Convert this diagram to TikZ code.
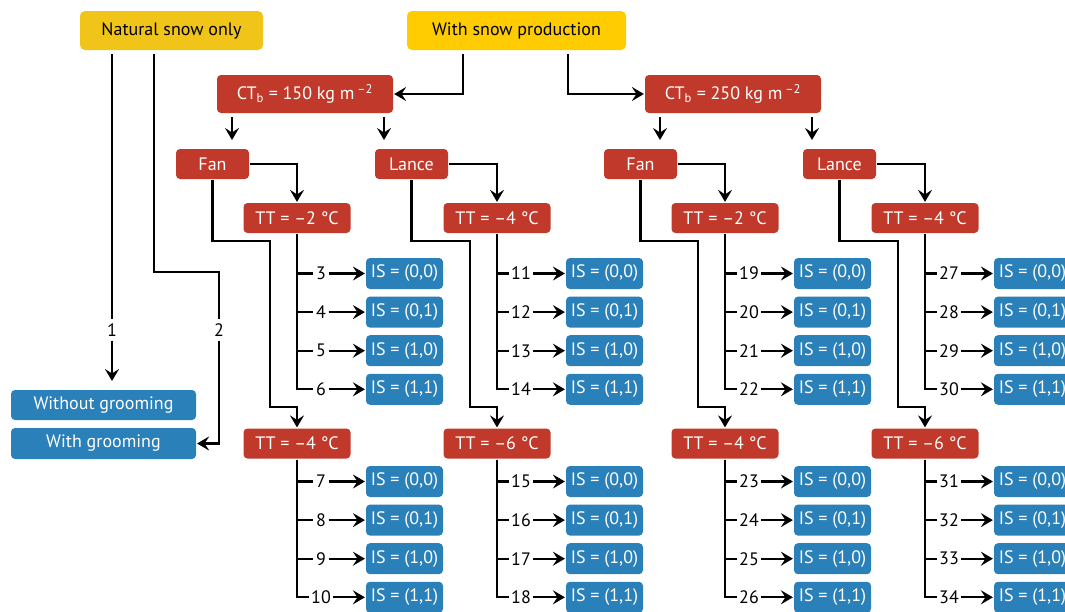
\documentclass[tikz,border=0pt]{standalone}
\usepackage{fontspec}
\setmainfont{PT Sans}
\usetikzlibrary{arrows.meta}

\definecolor{snowgold}{HTML}{F0C419}
\definecolor{snowyellow}{HTML}{FECC00}
\definecolor{snowred}{HTML}{C0392B}
\definecolor{snowblue}{HTML}{2A80B9}

\tikzset{
    box/.style={rounded corners=4pt, inner sep=0pt, minimum height=30pt, font=\fontsize{18}{21}\selectfont},
    goldbox/.style={box, fill=snowgold, minimum width=183pt, minimum height=39pt, rounded corners=5pt},
    yellowbox/.style={box, fill=snowyellow, minimum width=219pt, minimum height=39pt, rounded corners=5pt},
    redbox/.style={box, fill=snowred, text=white},
    bluebox/.style={box, fill=snowblue, text=white, minimum height=31pt},
    num/.style={inner sep=1.5pt, font=\fontsize{18}{21}\selectfont},
    lab/.style={num, fill=white, inner sep=3pt},
    arr/.style={-{Stealth[length=12pt, width=14pt, inset=4.5pt]}}
}

\begin{document}
\begin{tikzpicture}[x=1pt, y=-1pt, line width=2.2pt]
    \clip (0,0) rectangle (1065,611);

    % Snow options
    \node[goldbox] (nat) at (171.5,30.5) {Natural snow only};
    \node[yellowbox] (prod) at (516.5,30.5) {With snow production};

    % Grooming (natural snow only)
    \node[bluebox, minimum width=185pt, minimum height=30pt] (wog) at (103.5,405) {Without grooming};
    \node[bluebox, minimum width=185pt] (wg) at (103.5,443.5) {With grooming};

    % Base capacity
    \node[redbox, minimum width=176pt, minimum height=38pt] (ct1) at (305,94) {CT\textsubscript{b} = 150 kg m\,\textsuperscript{–2}};
    \node[redbox, minimum width=176pt, minimum height=38pt] (ct2) at (733,94) {CT\textsubscript{b} = 250 kg m\,\textsuperscript{–2}};

    % Snow guns
    \node[redbox, minimum width=73pt] (fan1) at (212.5,164) {Fan};
    \node[redbox, minimum width=73pt] (lance1) at (411.5,164) {Lance};
    \node[redbox, minimum width=73pt] (fan2) at (640.5,164) {Fan};
    \node[redbox, minimum width=73pt] (lance2) at (839.5,164) {Lance};

    % Natural snow branches
    \coordinate (n1) at (112,54);
    \coordinate (n2) at (154,54);
    \coordinate (t1) at (112,381);
    \node[lab] (lab1) at (112,330) {1};
    \node[lab] (lab2) at (219,330) {2};
    \draw (n1) -- (lab1);
    \draw[arr] (lab1) -- (t1);
    \draw (n2) |- (219,272) -- (lab2);
    \draw[arr] (lab2) |- (wg.east);

    % Snow production branches
    \coordinate (p1) at (463,54);
    \coordinate (p2) at (568,54);
    \draw[arr] (p1) |- (ct1.east);
    \draw[arr] (p2) |- (ct2.west);

    % Capacity to guns
    \foreach \c/\a in {ct1/232, ct1/384, ct2/660, ct2/812} {
        \coordinate (s\a) at (\a,117);
        \coordinate (e\a) at (\a,140);
        \draw[arr] (s\a) -- (e\a);
    }

    % Trigger temperatures and ideal states
    \foreach \g/\x/\tu/\tl in {1/297/2/4, 2/497/4/6, 3/725/2/4, 4/925/4/6} {
        \node[redbox, minimum width=107pt] (ttu\g) at (\x,218) {TT = –\tu\ °C};
        \node[redbox, minimum width=107pt] (ttl\g) at (\x,443.5) {TT = –\tl\ °C};
        \foreach \r/\s in {1/{(0,0)}, 2/{(0,1)}, 3/{(1,0)}, 4/{(1,1)}} {
            \pgfmathtruncatemacro\ia{8*\g-6+\r}
            \pgfmathtruncatemacro\ib{8*\g-2+\r}
            % upper set
            \node[num] (k\ia) at (\x+24,273.5+38.6*\r-38.6) {\ia};
            \node[bluebox, minimum width=77pt] (is\ia) at (\x+107.5,273.5+38.6*\r-38.6) {IS = \s};
            \draw (ttu\g.south) |- (k\ia.west);
            \draw[arr] (k\ia.east) -- (is\ia.west);
            % lower set
            \node[num] (k\ib) at (\x+24,481.5+38.6*\r-38.6) {\ib};
            \node[bluebox, minimum width=77pt] (is\ib) at (\x+107.5,481.5+38.6*\r-38.6) {IS = \s};
            \draw (ttl\g.south) |- (k\ib.west);
            \draw[arr] (k\ib.east) -- (is\ib.west);
        }
    }

    % Guns to trigger temperatures
    \foreach \m/\g/\x in {fan1/1/297, lance1/2/497, fan2/3/725, lance2/4/925} {
        \draw[arr] (\m.east) -| (ttu\g.north);
        \draw[arr] (\m.south) |- (\x-27,241) |- (\x,407) -- (ttl\g.north);
    }
\end{tikzpicture}
\end{document}
